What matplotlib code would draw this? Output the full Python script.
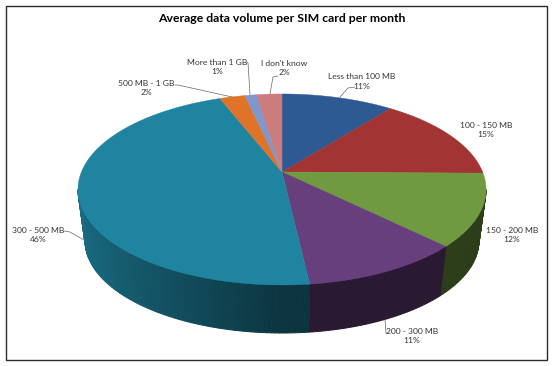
"""Average data volume per SIM card, drawn as a tilted 3D pie."""
import numpy as np
import matplotlib
matplotlib.use("Agg")
import matplotlib.pyplot as plt
from matplotlib.patches import Polygon, Rectangle
from matplotlib.colors import to_rgb

plt.rcParams["font.family"] = ["Lato", "DejaVu Sans"]

categories = ["Less than 100 MB", "100 - 150 MB", "150 - 200 MB", "200 - 300 MB",
              "300 - 500 MB", "500 MB - 1 GB", "More than 1 GB", "I don't know"]
# unrounded shares; labels show them rounded
values = [10.6, 14.6, 12.2, 10.8, 45.9, 2.4, 1.1, 2.4]
colors = ["#2E5A94", "#A23533", "#6F9A3F", "#663F7C",
          "#1E849F", "#DF7429", "#7F97CA", "#CC7C7D"]

W, H = 553, 366
CX = 282
K = 0.183  # perspective strength
SX, SY = 200.6, 92.3
APEX_TOP = 172
RIM_SCALE = 0.965
APEX_BOTTOM = 333 - SY * RIM_SCALE / (1 - K)
# the wall silhouette touches the disc where it is widest on screen
WALL_FROM = np.pi - np.arccos(K)
WALL_TO = np.pi + np.arccos(K)


def project(theta, scale=1.0, apex=APEX_TOP):
    """theta in radians, clockwise from the far side of the disc."""
    x, y = np.sin(theta), np.cos(theta)
    d = 1 + K * y
    return CX + SX * scale * x / d, apex - SY * scale * y / d


def wall_shade(theta):
    # wall gets darker towards the lower right, lighter on the far left
    return 0.40 + 0.42 * np.clip(-np.sin(theta), 0, 1)


fig = plt.figure(figsize=(W / 100, H / 100), dpi=100)
ax = fig.add_axes([0, 0, 1, 1])
ax.set_xlim(0, W)
ax.set_ylim(H, 0)
ax.axis("off")

ax.add_patch(Rectangle((6, 6), 541, 354, fc="white", ec="#2b2b2b", lw=1.0))

edges = np.cumsum([0] + values) / sum(values) * 2 * np.pi

# side wall, only the part facing the viewer
for start, end, col in zip(edges[:-1], edges[1:], colors):
    base = np.array(to_rgb(col))
    lo, hi = max(start, WALL_FROM), min(end, WALL_TO)
    if lo >= hi:
        continue
    steps = np.linspace(lo, hi, max(2, int(np.degrees(hi - lo)) + 1))
    for a, b in zip(steps[:-1], steps[1:]):
        t = np.array([a, b])
        xt, yt = project(t)
        xb, yb = project(t, RIM_SCALE, APEX_BOTTOM)
        pts = np.column_stack([np.r_[xt, xb[::-1]], np.r_[yt, yb[::-1]]])
        c = base * wall_shade((a + b) / 2)
        ax.add_patch(Polygon(pts, fc=c, ec=c, lw=0.7))

# top face
for start, end, col in zip(edges[:-1], edges[1:], colors):
    t = np.linspace(start, end, 120)
    x, y = project(t)
    pts = np.column_stack([np.r_[CX, x], np.r_[APEX_TOP, y]])
    ax.add_patch(Polygon(pts, fc=col, ec=col, lw=0.3))

ax.text(282, 18.5, "Average data volume per SIM card per month", ha="center", va="center",
        fontsize=8.8, fontweight="bold", color="black")

label_pos = [(362, 81.5), (486, 130), (512, 235), (412, 336),
             (38, 235), (146, 88), (217, 67), (284, 68)]
leaders = [[(355, 87), (348, 88), (340, 97)], None, None, [(385, 320), (386, 333), (388, 333)],
           [(84, 240), (70, 232), (64, 231)],
           [(232, 97), (178, 85), (175, 85)],
           [(250, 95), (248, 63), (247, 62)],
           [(270, 94), (273, 77), (278, 76)]]
for name, val, pos, lead in zip(categories, values, label_pos, leaders):
    ax.text(pos[0], pos[1], f"{name}\n{round(val)}%", ha="center", va="center", fontsize=6.1,
            color="#333333", linespacing=1.35)
    if lead:
        ax.plot(*zip(*lead), color="#666666", lw=0.5)

fig.savefig("out.png", dpi=100)
